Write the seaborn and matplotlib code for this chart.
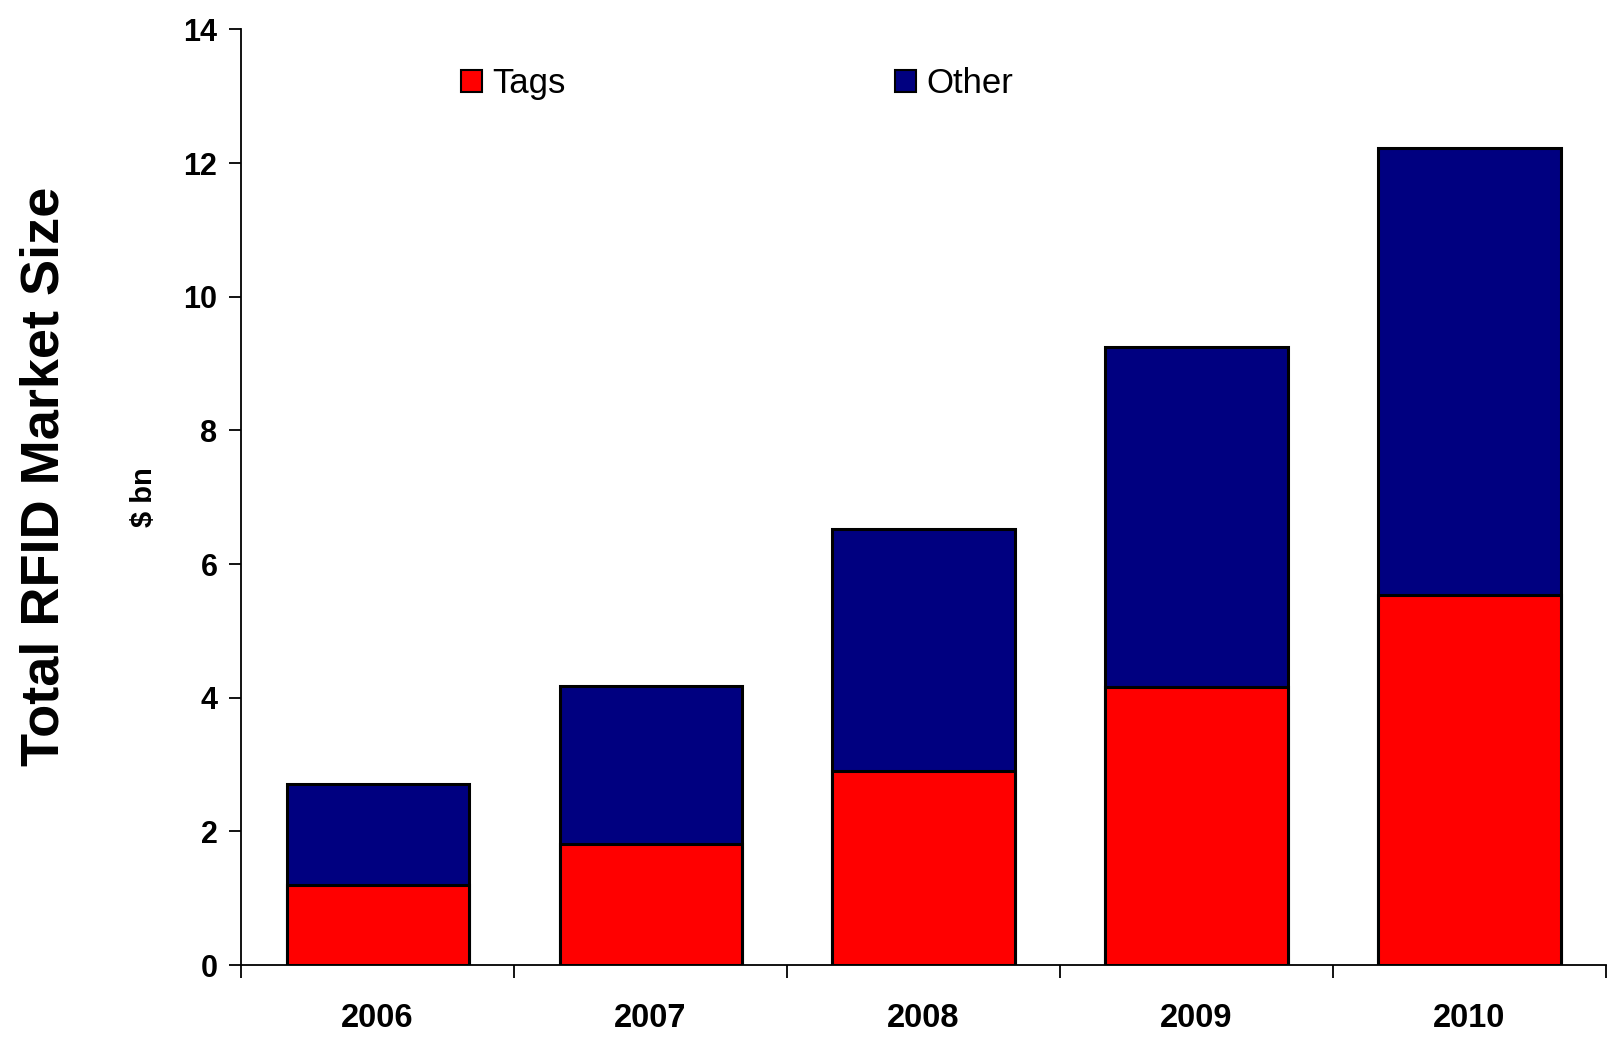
import matplotlib
matplotlib.use("Agg")
import matplotlib.pyplot as plt
import matplotlib.patches as mpatches
import seaborn as sns
import pandas as pd

# Market size by year, $ bn
years = ["2006", "2007", "2008", "2009", "2010"]
tags = [1.20, 1.81, 2.91, 4.16, 5.54]
other = [1.51, 2.36, 3.61, 5.08, 6.69]

TAG_COLOR = "#FF0000"
OTHER_COLOR = "#000080"

sns.set_theme(style="white")
plt.rcParams["font.family"] = ["Liberation Sans", "DejaVu Sans"]
plt.rcParams["text.color"] = "black"
plt.rcParams["axes.labelcolor"] = "black"

df = pd.DataFrame({"year": years, "tags": tags, "other": other})
df["total"] = df["tags"] + df["other"]

fig = plt.figure(figsize=(16.07, 10.37), dpi=100)
ax = fig.add_axes([0.150, 0.0694, 0.8494, 0.9023])

# stacked bars: full height in navy, tags segment in red on top of it
sns.barplot(data=df, x="year", y="total", color=OTHER_COLOR, width=0.667,
            edgecolor="black", linewidth=2.2, saturation=1, ax=ax)
sns.barplot(data=df, x="year", y="tags", color=TAG_COLOR, width=0.667,
            edgecolor="black", linewidth=2.2, saturation=1, ax=ax)

ax.set_xlim(-0.5, 4.5)
ax.set_ylim(0, 14)
ax.set_yticks(range(0, 15, 2))

for s in ["top", "right"]:
    ax.spines[s].set_visible(False)
for s in ["left", "bottom"]:
    ax.spines[s].set_color("black")
    ax.spines[s].set_linewidth(1.3)

ax.tick_params(axis="y", which="major", direction="out", length=9, width=1.3,
               color="black", labelsize=22, pad=8, left=True, labelcolor="black")
ax.tick_params(axis="x", which="major", length=0, labelsize=23.5, pad=27,
               labelcolor="black")
ax.set_xticks([i - 0.5 for i in range(len(years) + 1)], minor=True)
ax.tick_params(axis="x", which="minor", direction="out", length=9, width=1.3,
               color="black", bottom=True)
for lab in ax.get_xticklabels() + ax.get_yticklabels():
    lab.set_fontweight("bold")

ax.set_xlabel("")
ax.set_ylabel("")

fig.text(0.0275, 0.541, "Total RFID Market Size", rotation=90, fontsize=39,
         fontweight="bold", ha="center", va="center", color="black")
fig.text(0.0893, 0.521, "$ bn", rotation=90, fontsize=21, fontweight="bold",
         ha="center", va="center", color="black")

handles = [
    mpatches.Patch(facecolor=TAG_COLOR, edgecolor="black", linewidth=1.5, label="Tags"),
    mpatches.Patch(facecolor=OTHER_COLOR, edgecolor="black", linewidth=1.5, label="Other"),
]
ax.legend(handles=handles, ncol=2, frameon=False, fontsize=25,
          handlelength=0.6, handleheight=0.6, handletextpad=0.3,
          columnspacing=9.5, loc="center left",
          bbox_to_anchor=(0.161, 0.942), borderaxespad=0, borderpad=0)

fig.savefig("out.png", dpi=100, facecolor="white")
